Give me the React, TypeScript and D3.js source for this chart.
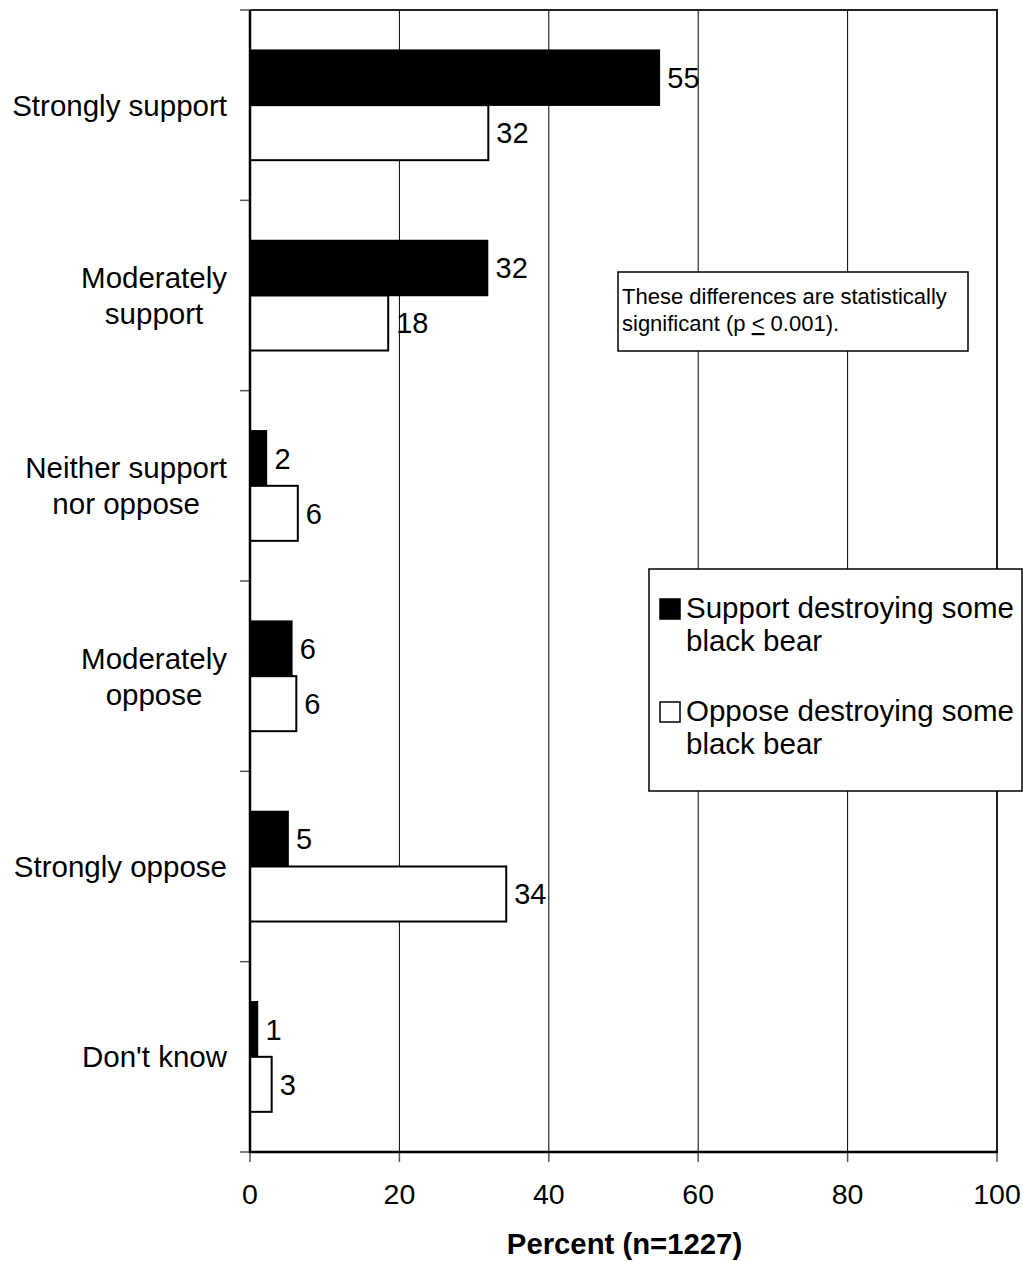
import React, { useEffect, useRef } from "react";
import * as d3 from "d3";

const categories = [
  "Strongly support",
  "Moderately support",
  "Neither support nor oppose",
  "Moderately oppose",
  "Strongly oppose",
  "Don't know",
];
const categoryLines = [
  ["Strongly support"],
  ["Moderately", "support"],
  ["Neither support", "nor oppose"],
  ["Moderately", "oppose"],
  ["Strongly oppose"],
  ["Don't know"],
];
const seriesNames = ["Support destroying some black bear", "Oppose destroying some black bear"];
const legendLines = [
  ["Support destroying some", "black bear"],
  ["Oppose destroying some", "black bear"],
];
const supportValues = [54.8, 31.8, 2.2, 5.6, 5.1, 1.0];
const supportLabels = ["55", "32", "2", "6", "5", "1"];
const opposeValues = [31.9, 18.5, 6.4, 6.2, 34.3, 2.9];
const opposeLabels = ["32", "18", "6", "6", "34", "3"];
const xTicks = [0, 20, 40, 60, 80, 100];
const xTitle = "Percent (n=1227)";

const W = 1023;
const H = 1262;
const FONT = "'Liberation Sans', Arial, Helvetica, sans-serif";

export default function App() {
  const ref = useRef<SVGSVGElement | null>(null);

  useEffect(() => {
    const svg = d3.select(ref.current);
    svg.selectAll("*").remove();

    const left = 250, right = 997, top = 10, bottom = 1152;
    const x = d3.scaleLinear().domain([0, 100]).range([left, right]);
    const y = d3.scaleBand<string>().domain(categories).range([top, bottom]).padding(0);
    const inner = d3
      .scaleBand<string>()
      .domain(seriesNames)
      .range([0, y.bandwidth()])
      .paddingInner(0)
      .paddingOuter(0.73);

    svg.append("rect").attr("x", 0).attr("y", 0).attr("width", W).attr("height", H).attr("fill", "#fff");

    // gridlines
    svg
      .append("g")
      .selectAll("line")
      .data(xTicks.filter((t) => t > 0 && t < 100))
      .join("line")
      .attr("x1", (d) => x(d))
      .attr("x2", (d) => x(d))
      .attr("y1", top)
      .attr("y2", bottom)
      .attr("stroke", "#000")
      .attr("stroke-width", 1);

    // plot border top/right
    svg
      .append("path")
      .attr("d", `M${left},${top}H${right}V${bottom}`)
      .attr("fill", "none")
      .attr("stroke", "#222")
      .attr("stroke-width", 2);

    const rows = categories.map((c, i) => ({
      cat: c,
      sv: supportValues[i],
      sl: supportLabels[i],
      ov: opposeValues[i],
      ol: opposeLabels[i],
    }));

    const g = svg.append("g");
    g.selectAll("rect.s")
      .data(rows)
      .join("rect")
      .attr("class", "s")
      .attr("x", x(0))
      .attr("y", (d) => (y(d.cat) as number) + (inner(seriesNames[0]) as number))
      .attr("width", (d) => x(d.sv) - x(0))
      .attr("height", inner.bandwidth())
      .attr("fill", "#000")
      .attr("stroke", "#000")
      .attr("stroke-width", 1.5);
    g.selectAll("rect.o")
      .data(rows)
      .join("rect")
      .attr("class", "o")
      .attr("x", x(0))
      .attr("y", (d) => (y(d.cat) as number) + (inner(seriesNames[1]) as number))
      .attr("width", (d) => x(d.ov) - x(0))
      .attr("height", inner.bandwidth())
      .attr("fill", "#fff")
      .attr("stroke", "#000")
      .attr("stroke-width", 2);

    // data labels
    const labelSize = 29;
    g.selectAll("text.sl")
      .data(rows)
      .join("text")
      .attr("class", "sl")
      .attr("x", (d) => x(d.sv) + 8)
      .attr("y", (d) => (y(d.cat) as number) + (inner(seriesNames[0]) as number) + inner.bandwidth() / 2)
      .attr("dy", "0.36em")
      .attr("font-family", FONT)
      .attr("font-size", labelSize)
      .attr("fill", "#000")
      .text((d) => d.sl);
    g.selectAll("text.ol")
      .data(rows)
      .join("text")
      .attr("class", "ol")
      .attr("x", (d) => x(d.ov) + 8)
      .attr("y", (d) => (y(d.cat) as number) + (inner(seriesNames[1]) as number) + inner.bandwidth() / 2)
      .attr("dy", "0.36em")
      .attr("font-family", FONT)
      .attr("font-size", labelSize)
      .attr("fill", "#000")
      .text((d) => d.ol);

    // y axis line & ticks
    const boundaries = categories.map((c) => y(c) as number).concat([bottom]);
    svg
      .append("g")
      .selectAll("line")
      .data(boundaries)
      .join("line")
      .attr("x1", left - 10)
      .attr("x2", left)
      .attr("y1", (d) => d)
      .attr("y2", (d) => d)
      .attr("stroke", "#555")
      .attr("stroke-width", 1.5);
    svg
      .append("line")
      .attr("x1", left)
      .attr("x2", left)
      .attr("y1", top)
      .attr("y2", bottom + 1)
      .attr("stroke", "#000")
      .attr("stroke-width", 2.5);

    // x axis line & ticks
    svg
      .append("g")
      .selectAll("line")
      .data(xTicks)
      .join("line")
      .attr("x1", (d) => x(d))
      .attr("x2", (d) => x(d))
      .attr("y1", bottom)
      .attr("y2", bottom + 10)
      .attr("stroke", "#555")
      .attr("stroke-width", 1.5);
    svg
      .append("line")
      .attr("x1", left - 1)
      .attr("x2", right + 1)
      .attr("y1", bottom)
      .attr("y2", bottom)
      .attr("stroke", "#000")
      .attr("stroke-width", 2.5);

    svg
      .append("g")
      .selectAll("text")
      .data(xTicks)
      .join("text")
      .attr("x", (d) => x(d))
      .attr("y", 1204)
      .attr("text-anchor", "middle")
      .attr("font-family", FONT)
      .attr("font-size", 28.5)
      .text((d) => String(d));

    svg
      .append("text")
      .attr("x", (left + right) / 2 + 1)
      .attr("y", 1254)
      .attr("text-anchor", "middle")
      .attr("font-family", FONT)
      .attr("font-size", 29.3)
      .attr("font-weight", "bold")
      .text(xTitle);

    // category labels
    const catG = svg.append("g");
    categories.forEach((c, i) => {
      const lines = categoryLines[i];
      const cy = (y(c) as number) + y.bandwidth() / 2;
      const lh = 36;
      const t = catG
        .append("text")
        .attr("font-family", FONT)
        .attr("font-size", 29.5)
        .attr("text-anchor", "middle");
      const spans = lines.map((ln, j) =>
        t
          .append("tspan")
          .attr("y", cy + (j - (lines.length - 1) / 2) * lh)
          .attr("dy", "0.36em")
          .text(ln)
      );
      let maxW = 0;
      spans.forEach((s) => {
        const n = s.node() as SVGTSpanElement;
        maxW = Math.max(maxW, n.getComputedTextLength());
      });
      const cx = 227 - maxW / 2;
      spans.forEach((s) => s.attr("x", cx));
    });

    // annotation box
    const ann = svg.append("g");
    ann
      .append("rect")
      .attr("x", 618)
      .attr("y", 272)
      .attr("width", 350)
      .attr("height", 79)
      .attr("fill", "#fff")
      .attr("stroke", "#000")
      .attr("stroke-width", 1.5);
    ann
      .append("text")
      .attr("x", 622)
      .attr("y", 304)
      .attr("font-family", FONT)
      .attr("font-size", 22)
      .text("These differences are statistically");
    const t2 = ann
      .append("text")
      .attr("x", 622)
      .attr("y", 331)
      .attr("font-family", FONT)
      .attr("font-size", 22);
    t2.append("tspan").text("significant (p ");
    t2.append("tspan").style("text-decoration", "underline").text("<");
    t2.append("tspan").text(" 0.001).");

    // legend
    const leg = svg.append("g");
    leg
      .append("rect")
      .attr("x", 649)
      .attr("y", 569)
      .attr("width", 373)
      .attr("height", 222)
      .attr("fill", "#fff")
      .attr("stroke", "#000")
      .attr("stroke-width", 1.5);
    const legTops = [599, 702];
    const fills = ["#000", "#fff"];
    legendLines.forEach((lines, i) => {
      leg
        .append("rect")
        .attr("x", 660)
        .attr("y", legTops[i])
        .attr("width", 20)
        .attr("height", 20)
        .attr("fill", fills[i])
        .attr("stroke", "#000")
        .attr("stroke-width", 1.5);
      const t = leg
        .append("text")
        .attr("font-family", FONT)
        .attr("font-size", 29.5);
      lines.forEach((ln, j) => {
        t.append("tspan")
          .attr("x", 686)
          .attr("y", legTops[i] + 19 + j * 33)
          .text(ln);
      });
    });
  }, []);

  return (
    <svg
      ref={ref}
      width={W}
      height={H}
      style={{ position: "absolute", left: 0, top: 0, display: "block" }}
    />
  );
}
